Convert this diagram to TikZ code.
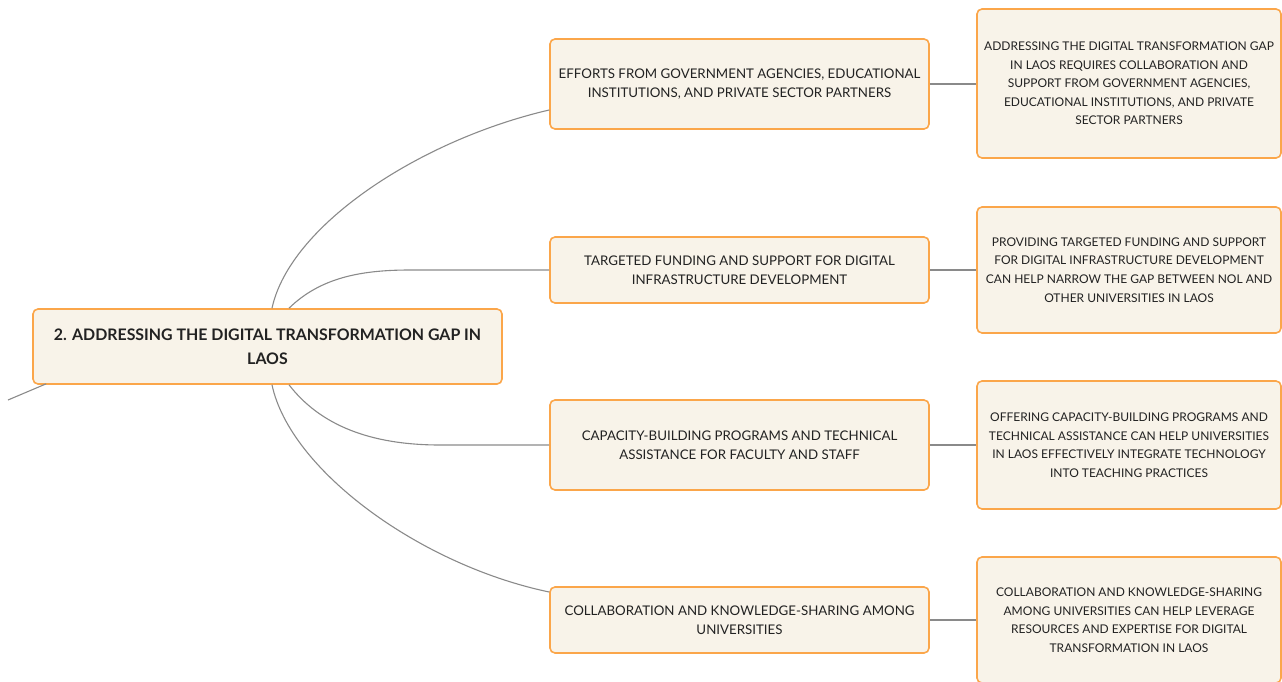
\documentclass[tikz,border=0pt]{standalone}
\usepackage{fontspec}
\setmainfont{Lato}
\definecolor{boxfill}{HTML}{F8F3E9}
\definecolor{boxline}{HTML}{FBA64A}
\definecolor{wire}{HTML}{8A8A8A}
\definecolor{ink}{HTML}{222222}
\tikzset{
  card/.style={draw=boxline, fill=boxfill, line width=1.6pt, rounded corners=5pt,
    rectangle, inner sep=0pt, align=center, text=ink},
  rootcard/.style={card, minimum width=469pt, minimum height=75pt,
    font=\fontsize{15.9}{24}\selectfont\bfseries},
  topic/.style={card, minimum width=379pt, minimum height=#1,
    font=\fontsize{13.3}{19.5}\selectfont},
  detail/.style={card, minimum width=304pt, minimum height=#1,
    font=\fontsize{12}{18.6}\selectfont},
  wire/.style={draw=wire, line width=1.1pt}
}
\begin{document}
\begin{tikzpicture}[x=1pt, y=-1pt]
\useasboundingbox (0,0) rectangle (1282,682);

% central topic
\node[rootcard] (root) at (267.5,346.5) {2. ADDRESSING THE DIGITAL TRANSFORMATION GAP IN\\LAOS};

% sub-topics
\node[topic=90pt] (t1) at (739.5,84) {EFFORTS FROM GOVERNMENT AGENCIES, EDUCATIONAL\\INSTITUTIONS, AND PRIVATE SECTOR PARTNERS};
\node[topic=66pt] (t2) at (739.5,270) {TARGETED FUNDING AND SUPPORT FOR DIGITAL\\INFRASTRUCTURE DEVELOPMENT};
\node[topic=90pt] (t3) at (739.5,445) {CAPACITY-BUILDING PROGRAMS AND TECHNICAL\\ASSISTANCE FOR FACULTY AND STAFF};
\node[topic=66pt] (t4) at (739.5,620) {COLLABORATION AND KNOWLEDGE-SHARING AMONG\\UNIVERSITIES};

% details
\node[detail=149pt] (d1) at (1129,83.5) {ADDRESSING THE DIGITAL TRANSFORMATION GAP\\IN LAOS REQUIRES COLLABORATION AND\\SUPPORT FROM GOVERNMENT AGENCIES,\\EDUCATIONAL INSTITUTIONS, AND PRIVATE\\SECTOR PARTNERS};
\node[detail=126pt] (d2) at (1129,270) {PROVIDING TARGETED FUNDING AND SUPPORT\\FOR DIGITAL INFRASTRUCTURE DEVELOPMENT\\CAN HELP NARROW THE GAP BETWEEN NOL AND\\OTHER UNIVERSITIES IN LAOS};
\node[detail=128pt] (d3) at (1129,445) {OFFERING CAPACITY-BUILDING PROGRAMS AND\\TECHNICAL ASSISTANCE CAN HELP UNIVERSITIES\\IN LAOS EFFECTIVELY INTEGRATE TECHNOLOGY\\INTO TEACHING PRACTICES};
\node[detail=126pt] (d4) at (1129,620) {COLLABORATION AND KNOWLEDGE-SHARING\\AMONG UNIVERSITIES CAN HELP LEVERAGE\\RESOURCES AND EXPERTISE FOR DIGITAL\\TRANSFORMATION IN LAOS};

% link to the parent topic, off to the left
\coordinate (up) at (8,400);
\draw[wire] (up) -- ([xshift=14pt,yshift=1pt]root.south west);

% branches from the central topic
\draw[wire] ([xshift=4.5pt]root.north) .. controls (290,225) and (420,140) .. ([yshift=-26pt]t1.west);
\draw[wire] ([xshift=21.5pt]root.north) .. controls (320,278) and (360,270) .. (410,270) -- (t2.west);
\draw[wire] ([xshift=21.5pt]root.south) .. controls (320,425) and (370,445) .. (440,445) -- (t3.west);
\draw[wire] ([xshift=4.5pt]root.south) .. controls (290,470) and (420,565) .. ([yshift=28pt]t4.west);

% sub-topic to detail links
\draw[wire] (t1.east) -- (d1.west |- t1.east);
\draw[wire] (t2.east) -- (d2.west |- t2.east);
\draw[wire] (t3.east) -- (d3.west |- t3.east);
\draw[wire] (t4.east) -- (d4.west |- t4.east);
\end{tikzpicture}
\end{document}
